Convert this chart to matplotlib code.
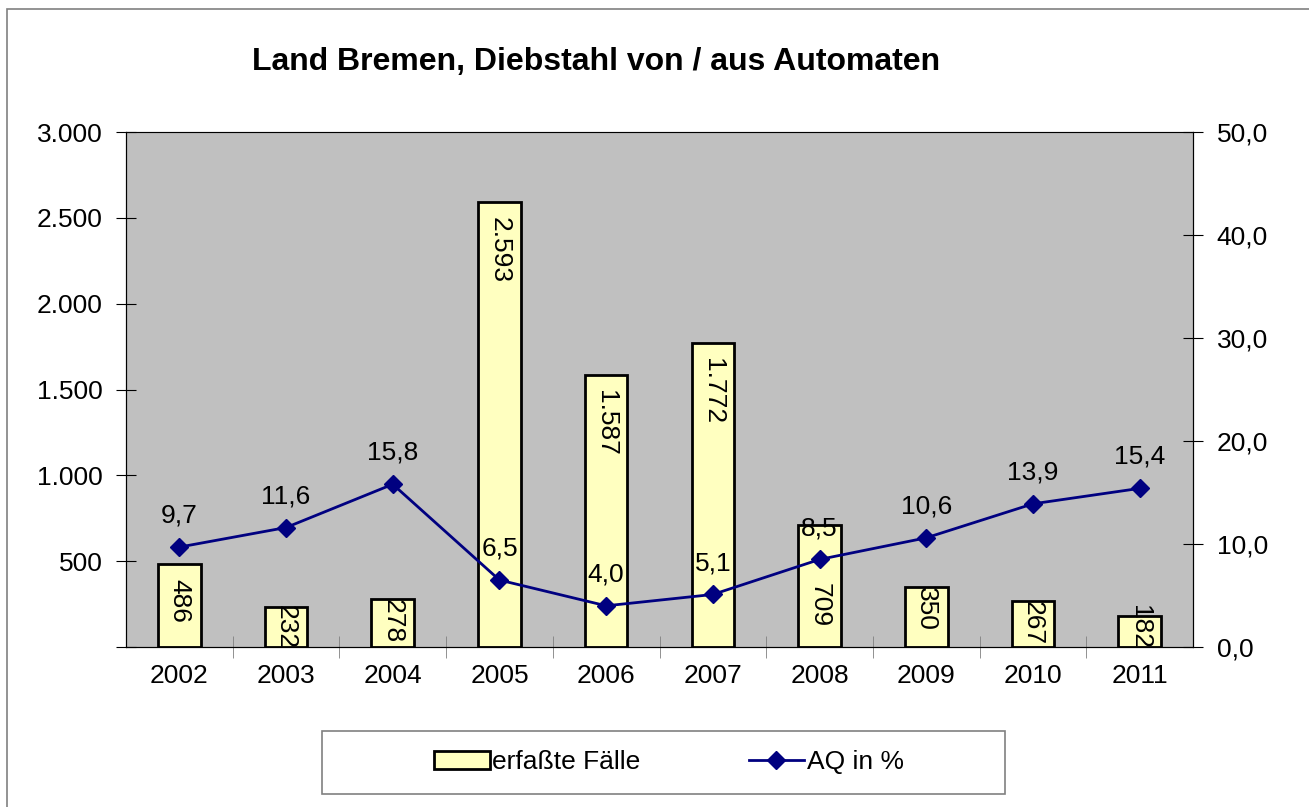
import matplotlib.pyplot as plt
from matplotlib.patches import Rectangle
from matplotlib.lines import Line2D

plt.rcParams['font.family'] = ['Liberation Sans', 'DejaVu Sans']

years = ['2002', '2003', '2004', '2005', '2006', '2007', '2008', '2009', '2010', '2011']
faelle = [486, 232, 278, 2593, 1587, 1772, 709, 350, 267, 182]
aq = [9.7, 11.6, 15.8, 6.5, 4.0, 5.1, 8.5, 10.6, 13.9, 15.4]

BAR_COLOR = '#FFFFC0'
LINE_COLOR = '#000080'
FS = 19


def de_int(v):
    return f"{int(v):,}".replace(',', '.')


def de_dec(v):
    return f"{v:.1f}".replace('.', ',')


W, H = 1309, 807
fig = plt.figure(figsize=(W / 100, H / 100), dpi=100)

# outer chart border (only left/top visible in the original)
fig.patches.append(Rectangle((7 / W, -0.05), 1.2, 1 - 9 / H + 0.05, transform=fig.transFigure,
                             fill=False, edgecolor='#808080', lw=1.2))

ax = fig.add_axes([126 / W, 1 - 647 / H, (1193 - 126) / W, (647 - 132) / H])
ax.set_facecolor('#C0C0C0')
x = list(range(len(years)))
bars = ax.bar(x, faelle, width=0.4, color=BAR_COLOR, edgecolor='black', linewidth=2, zorder=2)
ax.set_xlim(-0.5, len(years) - 0.5)
ax.set_ylim(0, 3000)
ax.set_yticks(range(0, 3001, 500))
ax.set_yticklabels(['' if v == 0 else de_int(v) for v in range(0, 3001, 500)], fontsize=FS)
ax.set_xticks(x)
ax.set_xticklabels(years, fontsize=FS)
ax.set_xticks([i + 0.5 for i in x[:-1]], minor=True)
ax.tick_params(axis='x', which='major', length=0, pad=12)
ax.tick_params(axis='x', which='minor', length=16, direction='inout', color='#808080')
ax.tick_params(axis='y', length=14, direction='inout', pad=10)
ax.spines['top'].set_color('#808080')

# bar labels: rotated, just inside the top; short bars push the label up
# so it ends at the axis (like Excel does), 2008 sits lower to clear "8,5"
pxu = ax.bbox.height / 3000  # pixels per case
for i, (b, v) in enumerate(zip(bars, faelle)):
    if years[i] == '2008':
        off_px = 58
    elif v > 400:
        off_px = 15
    else:
        off_px = 0
    y_top = max(v - off_px / pxu, 42 / pxu)
    ax.text(b.get_x() + b.get_width() / 2, y_top, de_int(v), rotation=-90,
            ha='center', va='top', fontsize=FS, clip_on=True, zorder=3)

ax2 = ax.twinx()
ax2.set_ylim(0, 50)
ax2.set_yticks(range(0, 51, 10))
ax2.set_yticklabels([de_dec(v) for v in range(0, 51, 10)], fontsize=FS)
ax2.tick_params(axis='y', length=14, direction='inout', pad=10)
ax2.plot(x, aq, color=LINE_COLOR, lw=2, marker='D', markersize=9, zorder=4)
for xi, v in zip(x, aq):
    ax2.annotate(de_dec(v), (xi, v), xytext=(0, 14), textcoords='offset points',
                 ha='center', va='bottom', fontsize=FS)

fig.text(596 / W, 1 - 62 / H, 'Land Bremen, Diebstahl von / aus Automaten',
         ha='center', va='center', fontsize=23, fontweight='bold')

# legend box
fig.patches.append(Rectangle((322 / W, 1 - 794 / H), (1005 - 322) / W, (794 - 731) / H,
                             transform=fig.transFigure, facecolor='white', edgecolor='#808080', lw=1.2))
handles = [Rectangle((0, 0), 1, 1, facecolor=BAR_COLOR, edgecolor='black', lw=2),
           Line2D([], [], color=LINE_COLOR, lw=2, marker='D', markersize=9)]
fig.legend(handles, ['erfaßte Fälle', 'AQ in %'], loc='center', ncol=2,
           bbox_to_anchor=(669 / W, 1 - 762 / H), frameon=False, fontsize=FS,
           handlelength=2.1, handletextpad=0.1, columnspacing=4.1)

fig.savefig('out.png', dpi=100)
